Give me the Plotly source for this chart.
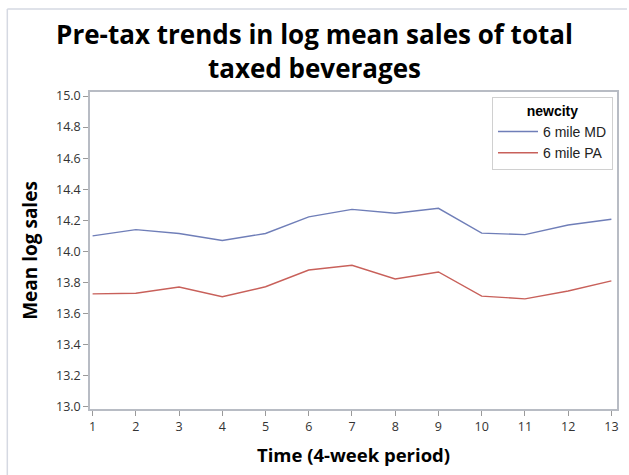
import plotly.graph_objects as go

periods = list(range(1, 14))
md_sales = [14.10, 14.14, 14.115, 14.07, 14.115, 14.222, 14.27, 14.245, 14.277, 14.117, 14.108, 14.17, 14.207]
pa_sales = [13.726, 13.73, 13.77, 13.708, 13.772, 13.88, 13.91, 13.822, 13.867, 13.712, 13.694, 13.745, 13.81]
series_names = ["6 mile MD", "6 mile PA"]
y_ticks = [13.0 + 0.2 * i for i in range(11)]

fig = go.Figure()
fig.add_trace(go.Scatter(x=periods, y=md_sales, mode="lines", name=series_names[0],
                         line=dict(color="#6F7EB8", width=1.4)))
fig.add_trace(go.Scatter(x=periods, y=pa_sales, mode="lines", name=series_names[1],
                         line=dict(color="#C8605A", width=1.4)))

font_family = "Open Sans, Arial, sans-serif"
legend_font = "Liberation Sans, Arial, sans-serif"

fig.update_layout(
    width=629, height=475,
    margin=dict(l=90, r=10, t=92, b=66),
    paper_bgcolor="white", plot_bgcolor="white",
    font=dict(family=font_family, color="#333333", size=12),
    title=dict(text="<b>Pre-tax trends in log mean sales of total<br>taxed beverages</b>",
               x=0.5, xanchor="center", y=1 - 44 / 475, yanchor="middle",
               font=dict(size=26, color="#000000", family=font_family)),
    legend=dict(x=0.9924, xanchor="right", y=0.985, yanchor="top",
                bgcolor="white", bordercolor="#d0d0d0", borderwidth=1,
                title=dict(text="<b>newcity</b>", side="top center",
                           font=dict(size=14, color="#000000", family=legend_font)),
                font=dict(size=14, color="#222222", family=legend_font),
                itemwidth=40, tracegroupgap=0),
    showlegend=True,
)

fig.update_xaxes(
    range=[0.94, 13.13], tickvals=periods, ticktext=[str(p) for p in periods],
    showgrid=False, zeroline=False,
    showline=True, linecolor="#b8bcc4", linewidth=1.5, mirror=True,
    ticks="outside", ticklen=5, tickcolor="#9a9a9a", tickwidth=1,
    tickfont=dict(size=12.5, color="#333333"),
    title=dict(text="<b>Time (4-week period)</b>", standoff=15,
               font=dict(size=18.5, color="#000000")),
)
fig.update_yaxes(
    range=[12.985, 15.026], tickvals=y_ticks, ticktext=[f"{v:.1f}" for v in y_ticks],
    showgrid=False, zeroline=False,
    showline=True, linecolor="#b8bcc4", linewidth=1.5, mirror=True,
    ticks="outside", ticklen=5, tickcolor="#9a9a9a", tickwidth=1,
    tickfont=dict(size=12.5, color="#333333"),
    title=dict(text="<b>Mean log sales</b>", standoff=13,
               font=dict(size=19, color="#000000")),
)

# outer frame of the graph region (top and left edges visible)
fig.add_shape(type="line", xref="paper", yref="paper",
              x0=(7 - 90) / 529, x1=(629 - 90) / 529, y0=1 + (92 - 9) / 317, y1=1 + (92 - 9) / 317,
              line=dict(color="#d5d9e2", width=1.5))
fig.add_shape(type="line", xref="paper", yref="paper",
              x0=(7 - 90) / 529, x1=(7 - 90) / 529, y0=1 + (92 - 9) / 317, y1=-(475 - 409) / 317,
              line=dict(color="#d5d9e2", width=1.5))

fig.write_html("out.html")
